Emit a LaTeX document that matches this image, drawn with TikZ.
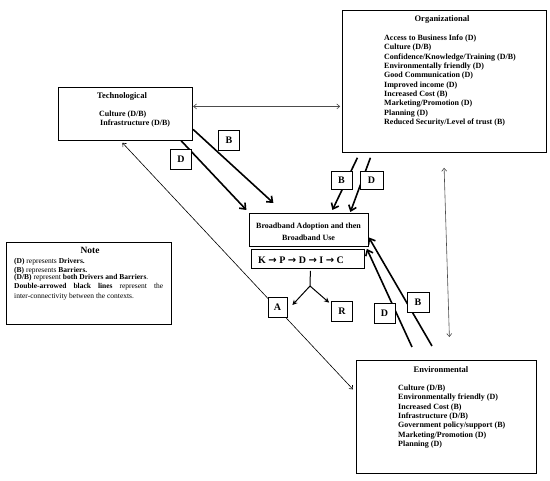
\documentclass[tikz,border=0pt]{standalone}
\usepackage{fontspec}
\setmainfont{Liberation Serif}
\newfontfamily\arrowfont{DejaVu Sans}
\usetikzlibrary{arrows.meta,calc,backgrounds}
\begin{document}
\begin{tikzpicture}[x=1pt,y=-1pt,
  frame/.style={draw, line width=0.8pt, fill=white, inner sep=0, anchor=north west},
  title/.style={font=\bfseries\fontsize{8.5}{10}\selectfont, inner sep=0},
  item/.style={font=\bfseries\fontsize{8}{9}\selectfont, inner sep=0, anchor=base west},
  notetxt/.style={font=\fontsize{7.5}{9}\selectfont, inner sep=0, anchor=base west},
  lbl/.style={draw, fill=white, line width=0.8pt, minimum width=21pt, minimum height=20pt, inner sep=0, font=\bfseries\fontsize{10}{12}\selectfont},
  heavy/.style={line width=1.6pt, -{Straight Barb[length=5pt,width=8pt]}},
  link/.style={line width=0.6pt, {Straight Barb[length=3pt,width=5pt]}-{Straight Barb[length=3pt,width=5pt]}},
  splitarrow/.style={line width=1pt, -{Stealth[length=5pt,width=5pt]}}
]
\useasboundingbox (0,0) rectangle (550,481);

% main boxes
\node[frame, minimum width=204pt, minimum height=142.3pt] (org) at (341.7,9.7) {};
\node[frame, minimum width=134.6pt, minimum height=53.3pt] (tech) at (57.7,86.7) {};
\node[frame, minimum width=179.5pt, minimum height=113pt] (env) at (356,360) {};
\node[frame, minimum width=165pt, minimum height=82pt] (note) at (6,242) {};
\node[frame, minimum width=119pt, minimum height=33pt] (bb) at (249,213) {};
\node[frame, minimum width=113pt, minimum height=19pt] (kp) at (251,249) {};

% Organizational text
\node[title] (orgt) at (442,19) {Organizational};
\foreach \t [count=\i from 0] in {Access to Business Info (D), Culture (D/B), Confidence/Knowledge/Training (D/B), Environmentally friendly (D), Good Communication (D), Improved income (D), Increased Cost (B), Marketing/Promotion (D), Planning (D), Reduced Security/Level of trust (B)}
  \node[item] (org\i) at (384,{40.5+\i*9.33}) {\t};

% Technological text
\node[title] (techt) at (122,96) {Technological};
\node[item] (tech0) at (99,116.5) {Culture (D/B)};
\node[item] (tech1) at (100,125.5) {Infrastructure (D/B)};

% Environmental text
\node[title] (envt) at (441,370) {Environmental};
\foreach \t [count=\i from 0] in {Culture (D/B), Environmentally friendly (D), Increased Cost (B), Infrastructure (D/B), Government policy/support (B), Marketing/Promotion (D), Planning (D)}
  \node[item] (env\i) at (398,{390.5+\i*9.33}) {\t};

% Broadband text
\node[item, anchor=base] (bb0) at (308.5,228.5) {Broadband Adoption and then};
\node[item, anchor=base] (bb1) at (308.5,240.5) {Broadband Use};
\node[inner sep=0, anchor=base west, font=\bfseries\fontsize{10}{12}\selectfont] (kpt) at (258,263.3)
  {K {\arrowfont\bfseries →} P {\arrowfont\bfseries →} D {\arrowfont\bfseries →} I {\arrowfont\bfseries →} C};

% Note text
\node[title, font=\bfseries\fontsize{9.5}{11}\selectfont] (notet) at (90,250) {Note};
\node[notetxt] (n1) at (14,263.3) {\textbf{(D)} represents \textbf{Drivers.}};
\node[notetxt] (n2) at (14,272.3) {\textbf{(B)} represents \textbf{Barriers.}};
\node[notetxt] (n3) at (14,279.3) {\textbf{(D/B)} represent \textbf{both Drivers and Barriers}.};
\node[notetxt] (n4) at (14,288.3) {\hbox to 149pt{\textbf{Double-arrowed}\hfil\textbf{black}\hfil\textbf{lines}\hfil represent\hfil the}};
\node[notetxt] (n5) at (14,298.3) {inter-connectivity between the contexts.};

% letter boxes
\node[lbl] (tB) at (229,140.5) {B};
\node[lbl] (tD) at (181,159) {D};
\node[lbl, minimum height=18pt] (oB) at (341.5,180) {B};
\node[lbl, minimum height=18pt, minimum width=23pt] (oD) at (371.5,180) {D};
\node[lbl, minimum width=19pt] (A) at (277.5,307) {A};
\node[lbl] (R) at (342,311) {R};
\node[lbl] (eD) at (384.5,313.5) {D};
\node[lbl, minimum width=22pt] (eB) at (418,302) {B};

% free ends
\coordinate (eBs) at (432,346);
\coordinate (eDs) at (412,347);
\coordinate (junc) at (310,286);

\begin{scope}[on background layer]
  % thin double-arrowed links
  \draw[link, black!70] ([yshift=7.3pt]tech.east) -- ([yshift=-25.2pt,xshift=-1.5pt]org.west);
  \draw[link] ([xshift=-3pt,yshift=-2pt]tech.south) -- ([xshift=-3pt,yshift=27.5pt]env.west);
  \draw[link, black!70] ([yshift=-15pt]org.south) -- ([xshift=3.25pt,yshift=23pt]env.north);
  % heavy arrows
  \draw[heavy] ([yshift=-15.65pt]tech.east) -- ([xshift=-35.5pt,yshift=10pt]bb.north);
  \draw[heavy] ([xshift=55.8pt]tech.south) -- ([xshift=-62.5pt,yshift=3pt]bb.north);
  \draw[heavy] ([xshift=-86.7pt,yshift=-5pt]org.south) -- ([xshift=23.5pt,yshift=3pt]bb.north);
  \draw[heavy] ([xshift=-73.7pt,yshift=-5pt]org.south) -- ([xshift=41.5pt,yshift=1pt]bb.north);
  \draw[heavy] (eBs) -- ([yshift=-7.5pt]bb.east);
  \draw[heavy] (eDs) -- ([xshift=-2pt,yshift=-2pt]bb.south east);
  % split
  \draw[line width=1pt] ([xshift=2.5pt,yshift=-2pt]kp.south) -- (junc);
  \draw[splitarrow] (junc) -- ([xshift=5pt,yshift=2pt]A.east);
  \draw[splitarrow] (junc) -- ([xshift=-2pt,yshift=-2pt]R.north west);
\end{scope}
\end{tikzpicture}
\end{document}
